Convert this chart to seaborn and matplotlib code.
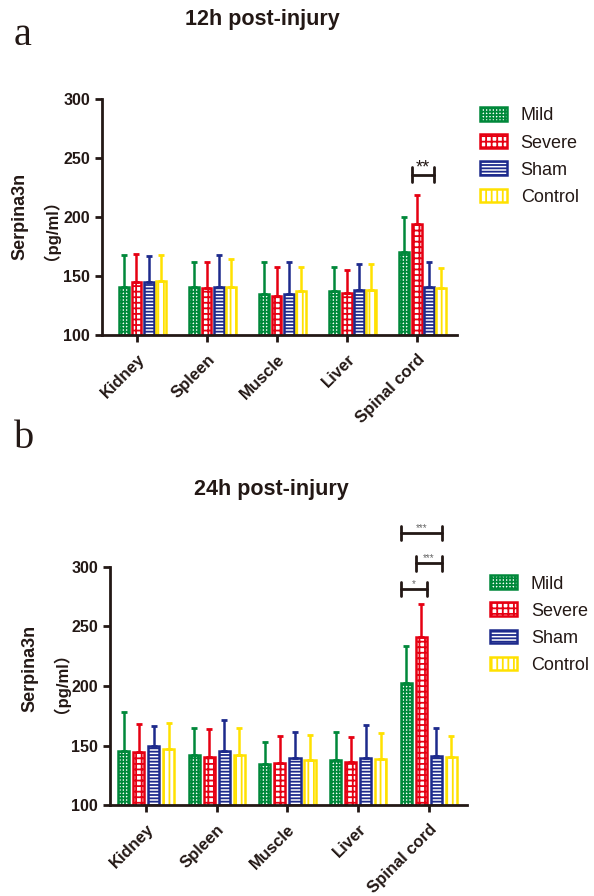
import matplotlib
matplotlib.use("Agg")
import matplotlib.pyplot as plt
import matplotlib.patches as mpatches
import numpy as np
import pandas as pd
import seaborn as sns

TISSUES = ["Kidney", "Spleen", "Muscle", "Liver", "Spinal cord"]
GROUPS = ["Mild", "Severe", "Sham", "Control"]
COLORS = ["#00883A", "#E60012", "#1D2A8C", "#FFE100"]
HATCHES = ["+++++", "+++", "-----", "|||"]

# 12h post-injury, mean and SD (pg/ml)
mean_12h = {
    "Mild": [141, 141, 134.5, 137, 170],
    "Severe": [145, 140, 133, 135.5, 194],
    "Sham": [145, 141, 135, 138.5, 140.5],
    "Control": [146, 141, 137, 138, 140],
}
sd_12h = {
    "Mild": [26.5, 20.6, 27.5, 21, 29.6],
    "Severe": [24, 22, 25, 19.5, 25],
    "Sham": [22, 27, 27, 22, 21],
    "Control": [22, 23, 21, 22.5, 17],
}

# 24h post-injury, mean and SD (pg/ml)
mean_24h = {
    "Mild": [145.4, 142, 134.5, 138, 202.5],
    "Severe": [144.5, 140.5, 135, 136, 241],
    "Sham": [149.6, 145, 139.5, 139.5, 141],
    "Control": [147, 142, 137.8, 138.6, 140.3],
}
sd_24h = {
    "Mild": [32.6, 22.7, 18.5, 23.3, 31],
    "Severe": [23.5, 23.5, 23, 21, 28],
    "Sham": [16.8, 26.4, 21.5, 27.5, 23.7],
    "Control": [22, 22.7, 21, 22, 17.7],
}

# significance brackets on spinal cord: (group a, group b, height, label)
sig_12h = [("Severe", "Sham", 236, "**")]
sig_24h = [
    ("Mild", "Severe", 281.5, "*"),
    ("Severe", "Sham", 303, "***"),
    ("Mild", "Sham", 328.6, "***"),
]

DARK = "#231815"

sns.set_style("ticks")
plt.rcParams["font.family"] = ["Liberation Sans", "Noto Sans CJK SC"]
plt.rcParams["hatch.linewidth"] = 1.3


def to_frame(means):
    rows = []
    for g in GROUPS:
        for t, v in zip(TISSUES, means[g]):
            rows.append({"tissue": t, "group": g, "value": v})
    return pd.DataFrame(rows)


def draw_panel(ax, means, sds, sigs, width, gap, tick_shift, xlim, star_size, star_color):
    df = to_frame(means)
    sns.barplot(
        data=df, x="tissue", y="value", hue="group",
        order=TISSUES, hue_order=GROUPS, palette=COLORS,
        errorbar=None, width=width, gap=gap, legend=False, ax=ax,
    )
    centers = {}
    for g, color, hatch, cont in zip(GROUPS, COLORS, HATCHES, ax.containers):
        xs, ys, ws = [], [], []
        for bar in cont:
            bar.set_facecolor("white")
            bar.set_edgecolor(color)
            bar.set_hatch(hatch)
            bar.set_linewidth(1.8)
            xs.append(bar.get_x() + bar.get_width() / 2)
            ys.append(bar.get_height())
            ws.append(bar.get_width())
        centers[g] = (xs, ws)
        err = np.array(sds[g])
        ax.errorbar(
            xs, ys, yerr=[np.zeros_like(err), err], fmt="none",
            ecolor=color, elinewidth=1.8, capsize=2.3, capthick=2, zorder=1,
        )

    # brackets over the last category
    for a, b, h, label in sigs:
        xa = centers[a][0][-1] - centers[a][1][-1] / 2
        xb = centers[b][0][-1] + centers[b][1][-1] / 2
        ax.plot([xa, xb], [h, h], color=DARK, lw=2, clip_on=False)
        for xx in (xa, xb):
            ax.plot([xx, xx], [h - 6, h + 6], color=DARK, lw=2, clip_on=False)
        ax.annotate(label, xy=((xa + xb) / 2, h), xytext=(0, 1.5),
                    textcoords="offset points", ha="center", va="baseline",
                    fontsize=star_size, color=star_color, annotation_clip=False)

    ax.set_ylim(100, 300)
    ax.set_yticks([100, 150, 200, 250, 300])
    ax.set_xlim(*xlim)
    ax.set_xticks(np.arange(len(TISSUES)) + tick_shift, TISSUES)
    ax.set_xlabel("")
    ax.set_ylabel("")
    sns.despine(ax=ax)
    for side in ("left", "bottom"):
        ax.spines[side].set_linewidth(2)
        ax.spines[side].set_color(DARK)
    ax.tick_params(width=2, length=5, color=DARK, labelcolor=DARK)
    ax.tick_params(axis="x", pad=7)
    for lab in ax.get_yticklabels():
        lab.set_fontsize(11.5)
        lab.set_fontweight("bold")
    for lab in ax.get_xticklabels():
        lab.set_fontsize(12)
        lab.set_fontweight("bold")
        lab.set_rotation(45)
        lab.set_ha("right")
        lab.set_rotation_mode("anchor")

    handles = [
        mpatches.Patch(facecolor="white", edgecolor=c, hatch=h, lw=1.8, label=g)
        for g, c, h in zip(GROUPS, COLORS, HATCHES)
    ]
    ax.legend(handles=handles, loc="upper left", bbox_to_anchor=(1.065, 0.965),
              frameon=False, fontsize=13, handlelength=1.5, handleheight=0.8,
              handletextpad=0.75, labelspacing=0.55, borderpad=0, borderaxespad=0,
              labelcolor=DARK)


fig = plt.figure(figsize=(5.94, 8.96), dpi=100)
ax1 = fig.add_axes([102 / 594, 1 - 335 / 896, 355 / 594, 236 / 896])
ax2 = fig.add_axes([110 / 594, 1 - 805 / 896, 357 / 594, 238 / 896])

draw_panel(ax1, mean_12h, sd_12h, sig_12h, width=0.70, gap=0.19,
           tick_shift=-0.08, xlim=(-0.58, 4.49), star_size=13, star_color=DARK)
draw_panel(ax2, mean_24h, sd_24h, sig_24h, width=0.85, gap=0.26,
           tick_shift=0.0, xlim=(-0.51, 4.54), star_size=7, star_color="#666666")

# titles, panel letters, y labels
fig.text(262 / 594, 1 - 20 / 896, "12h post-injury", ha="center", va="center",
         fontsize=15.5, fontweight="bold", color=DARK)
fig.text(271 / 594, 1 - 489 / 896, "24h post-injury", ha="center", va="center",
         fontsize=15.5, fontweight="bold", color=DARK)
fig.text(14 / 594, 1 - 45 / 896, "a", fontsize=29, family="Liberation Serif",
         ha="left", va="baseline", color=DARK)
fig.text(14 / 594, 1 - 448 / 896, "b", fontsize=29, family="Liberation Serif",
         ha="left", va="baseline", color=DARK)

fig.text(20 / 594, 1 - 216 / 896, "Serpina3n", rotation=90, ha="center", va="center",
         fontsize=13, fontweight="bold", color=DARK)
fig.text(42 / 594, 1 - 221 / 896, "（pg/ml）", rotation=90, ha="center", va="center",
         fontsize=12, fontweight="bold", color=DARK)
fig.text(30 / 594, 1 - 668 / 896, "Serpina3n", rotation=90, ha="center", va="center",
         fontsize=13, fontweight="bold", color=DARK)
fig.text(52 / 594, 1 - 674 / 896, "（pg/ml）", rotation=90, ha="center", va="center",
         fontsize=12, fontweight="bold", color=DARK)

fig.savefig("out.png", dpi=100, facecolor="white")
